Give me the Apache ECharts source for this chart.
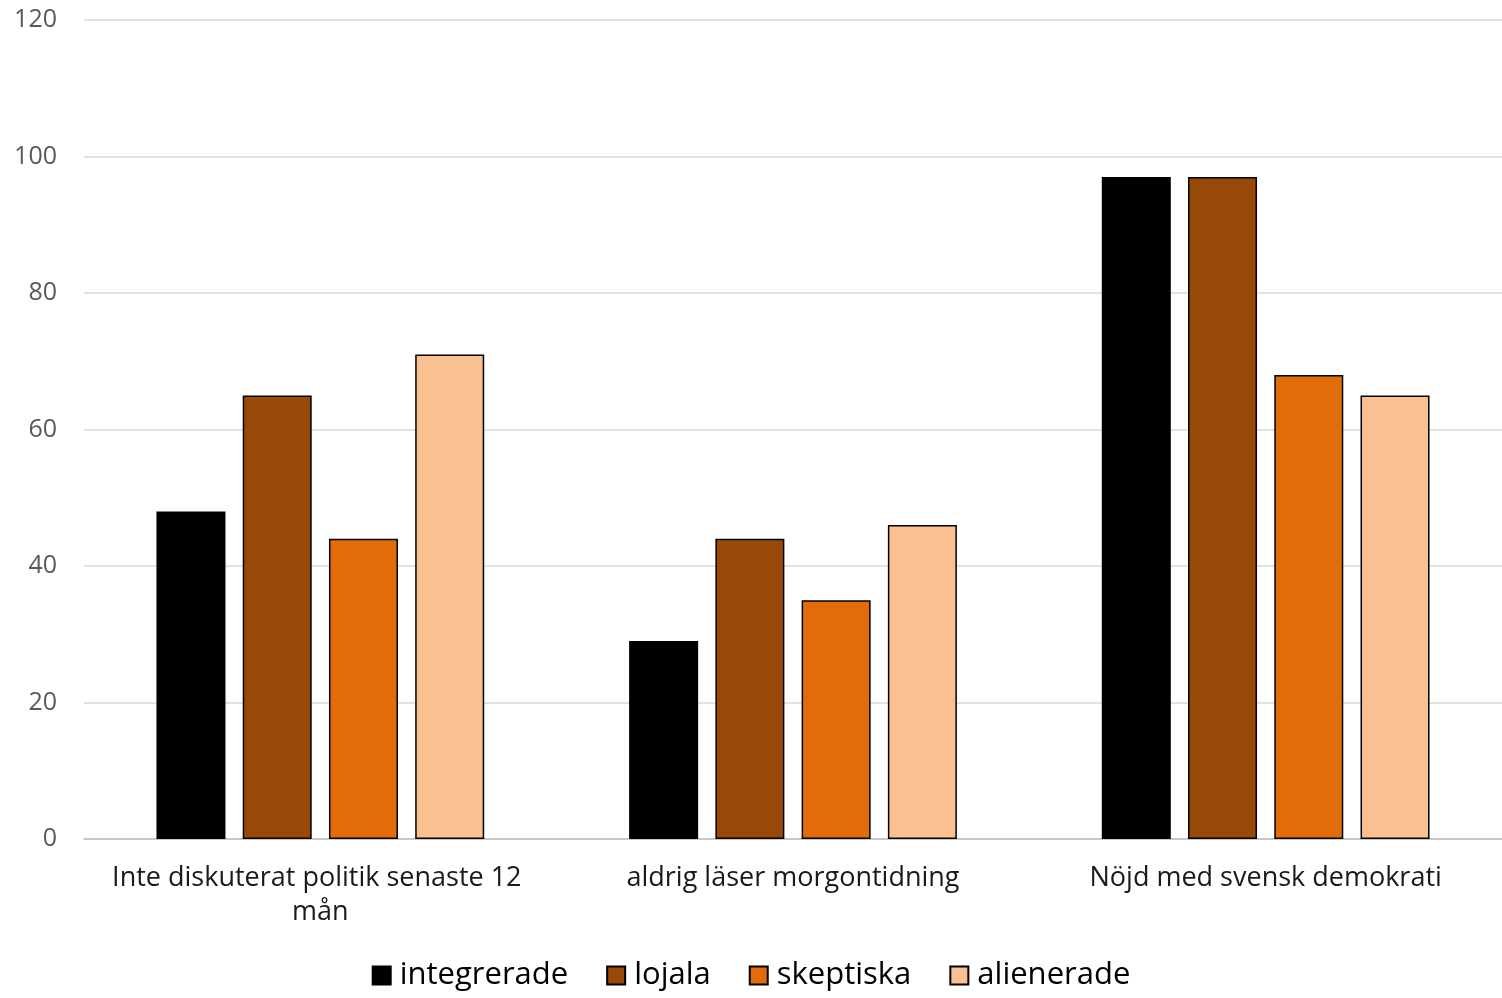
<!DOCTYPE html>
<html><head><meta charset="utf-8">
<script src="https://cdn.jsdelivr.net/npm/echarts@6/dist/echarts.min.js"></script>
<style>html,body{margin:0;padding:0;background:#fff}#c{width:1502px;height:998px}</style>
</head><body><div id="c"></div>
<script>
const categories = ['Inte diskuterat politik senaste 12 mån', 'aldrig läser morgontidning', 'Nöjd med svensk demokrati'];
const seriesNames = ['integrerade', 'lojala', 'skeptiska', 'alienerade'];
const integrerade = [48, 29, 97];
const lojala = [65, 44, 97];
const skeptiska = [44, 35, 68];
const alienerade = [71, 46, 65];
const colors = ['#000000', '#984807', '#E36C0A', '#FAC090'];
const yTicks = [0, 20, 40, 60, 80, 100, 120];

const values = [integrerade, lojala, skeptiska, alienerade];
const font = '"Open Sans", "Noto Sans", sans-serif';
const chart = echarts.init(document.getElementById('c'));
chart.setOption({
  animation: false,
  textStyle: { fontFamily: font },
  grid: { left: 84, right: 0, top: 20, bottom: 159, containLabel: false },
  legend: {
    bottom: 2, left: 'center',
    itemWidth: 18, itemHeight: 18, itemGap: 38,
    icon: 'rect',
    formatter: n => '{a|' + n + '}',
    textStyle: { fontSize: 31, color: '#000', fontFamily: font,
      rich: { a: { fontSize: 31, color: '#000', fontFamily: font, padding: [0, 0, 0, 4] } } },
    data: seriesNames
  },
  xAxis: {
    type: 'category', data: categories,
    axisLine: { lineStyle: { color: '#bfbfbf', width: 1.5 } },
    axisTick: { show: false },
    axisLabel: { fontSize: 27, color: '#1a1a1a', margin: 22, lineHeight: 34, width: 450, overflow: 'break', interval: 0 }
  },
  yAxis: {
    type: 'value', min: 0, max: 120, interval: 20,
    axisLine: { show: false }, axisTick: { show: false },
    axisLabel: { fontSize: 25, color: '#595959', margin: 27, lineHeight: 30, verticalAlign: 'middle' },
    splitLine: { lineStyle: { color: '#d9d9d9', width: 1.5 } }
  },
  series: seriesNames.map((n, i) => ({
    name: n, type: 'bar', data: values[i],
    barWidth: 69, barGap: '25%',
    itemStyle: { color: colors[i], borderColor: '#000', borderWidth: 1.5 }
  }))
});
</script></body></html>
